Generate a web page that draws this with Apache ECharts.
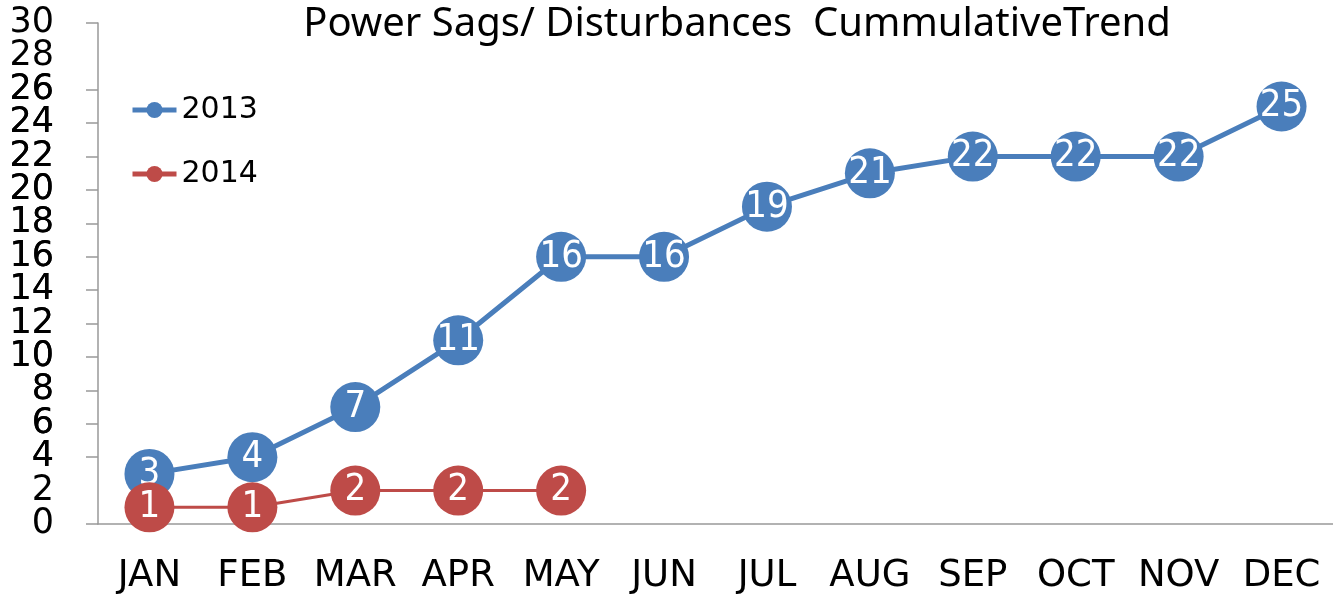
<!DOCTYPE html>
<html>
<head>
<meta charset="utf-8">
<script src="https://cdn.jsdelivr.net/npm/echarts@6/dist/echarts.min.js"></script>
<style>
  html, body { margin: 0; padding: 0; background: #fff; }
  #chart { width: 1333px; height: 595px; }
</style>
</head>
<body>
<div id="chart"></div>
<script>
// 月份
var months = ['JAN', 'FEB', 'MAR', 'APR', 'MAY', 'JUN', 'JUL', 'AUG', 'SEP', 'OCT', 'NOV', 'DEC'];
// 累计数
var data2013 = [3, 4, 7, 11, 16, 16, 19, 21, 22, 22, 22, 25];
var data2014 = [1, 1, 2, 2, 2];

var myChart = echarts.init(document.getElementById('chart'));

var yLabelFont = { fontFamily: 'DejaVu Sans', fontSize: 35, color: '#000', margin: 44 };

var option = {
    animation: false,
    //标题
    title: {
        text: 'Power Sags/ Disturbances  CummulativeTrend',
        left: 732,
        textAlign: 'center',
        top: 0,
        textStyle: { fontFamily: 'Noto Sans', fontWeight: 'normal', fontSize: 40, color: '#000' }
    },
    legend: {
        orient: 'vertical',
        left: 125,
        top: 90,
        itemGap: 34,
        itemWidth: 44,
        itemHeight: 20,
        lineStyle: { width: 5 },
        textStyle: { fontFamily: 'DejaVu Sans', fontSize: 30, color: '#000' },
        data: ['2013', '2014']
    },
    grid: { left: 98, right: 0, top: 23, bottom: 70, containLabel: false },
    xAxis: {
        type: 'category',
        data: months,
        boundaryGap: true,
        axisLine: { lineStyle: { color: '#999', width: 1.5 } },
        axisTick: { length: 13, lineStyle: { color: '#999', width: 1.5 } },
        axisLabel: { interval: 0, hideOverlap: false, fontFamily: 'DejaVu Sans', fontSize: 37, color: '#000', margin: 34 }
    },
    // 两个y轴叠在一起：一个显示0和30，另一个显示中间的刻度
    yAxis: [
        {
            type: 'value',
            position: 'left',
            min: 0,
            max: 30,
            interval: 2,
            splitLine: { show: false },
            axisLine: { show: true, lineStyle: { color: '#999', width: 1.5 } },
            axisTick: { show: true, length: 12, lineStyle: { color: '#999', width: 1.5 } },
            axisLabel: Object.assign({ showMinLabel: true, showMaxLabel: true }, yLabelFont)
        },
        {
            type: 'value',
            position: 'left',
            offset: 0,
            min: 0,
            max: 30,
            interval: 2,
            splitLine: { show: false },
            axisLine: { show: false },
            axisTick: { show: false },
            axisLabel: Object.assign({ showMinLabel: false, showMaxLabel: false }, yLabelFont)
        }
    ],
    series: [
        {
            name: '2013',
            type: 'line',
            data: data2013,
            symbol: 'circle',
            symbolSize: 50,
            lineStyle: { color: '#4a7ebb', width: 5 },
            itemStyle: { color: '#4a7ebb' },
            label: {
                show: true,
                position: 'inside',
                color: '#fff',
                fontFamily: 'DejaVu Sans Condensed',
                fontSize: 38
            },
            z: 2
        },
        {
            name: '2014',
            type: 'line',
            data: data2014,
            symbol: 'circle',
            symbolSize: 50,
            lineStyle: { color: '#be4b48', width: 3 },
            itemStyle: { color: '#be4b48' },
            label: {
                show: true,
                position: 'inside',
                color: '#fff',
                fontFamily: 'DejaVu Sans Condensed',
                fontSize: 38
            },
            z: 3
        }
    ]
};

myChart.setOption(option);
</script>
</body>
</html>
